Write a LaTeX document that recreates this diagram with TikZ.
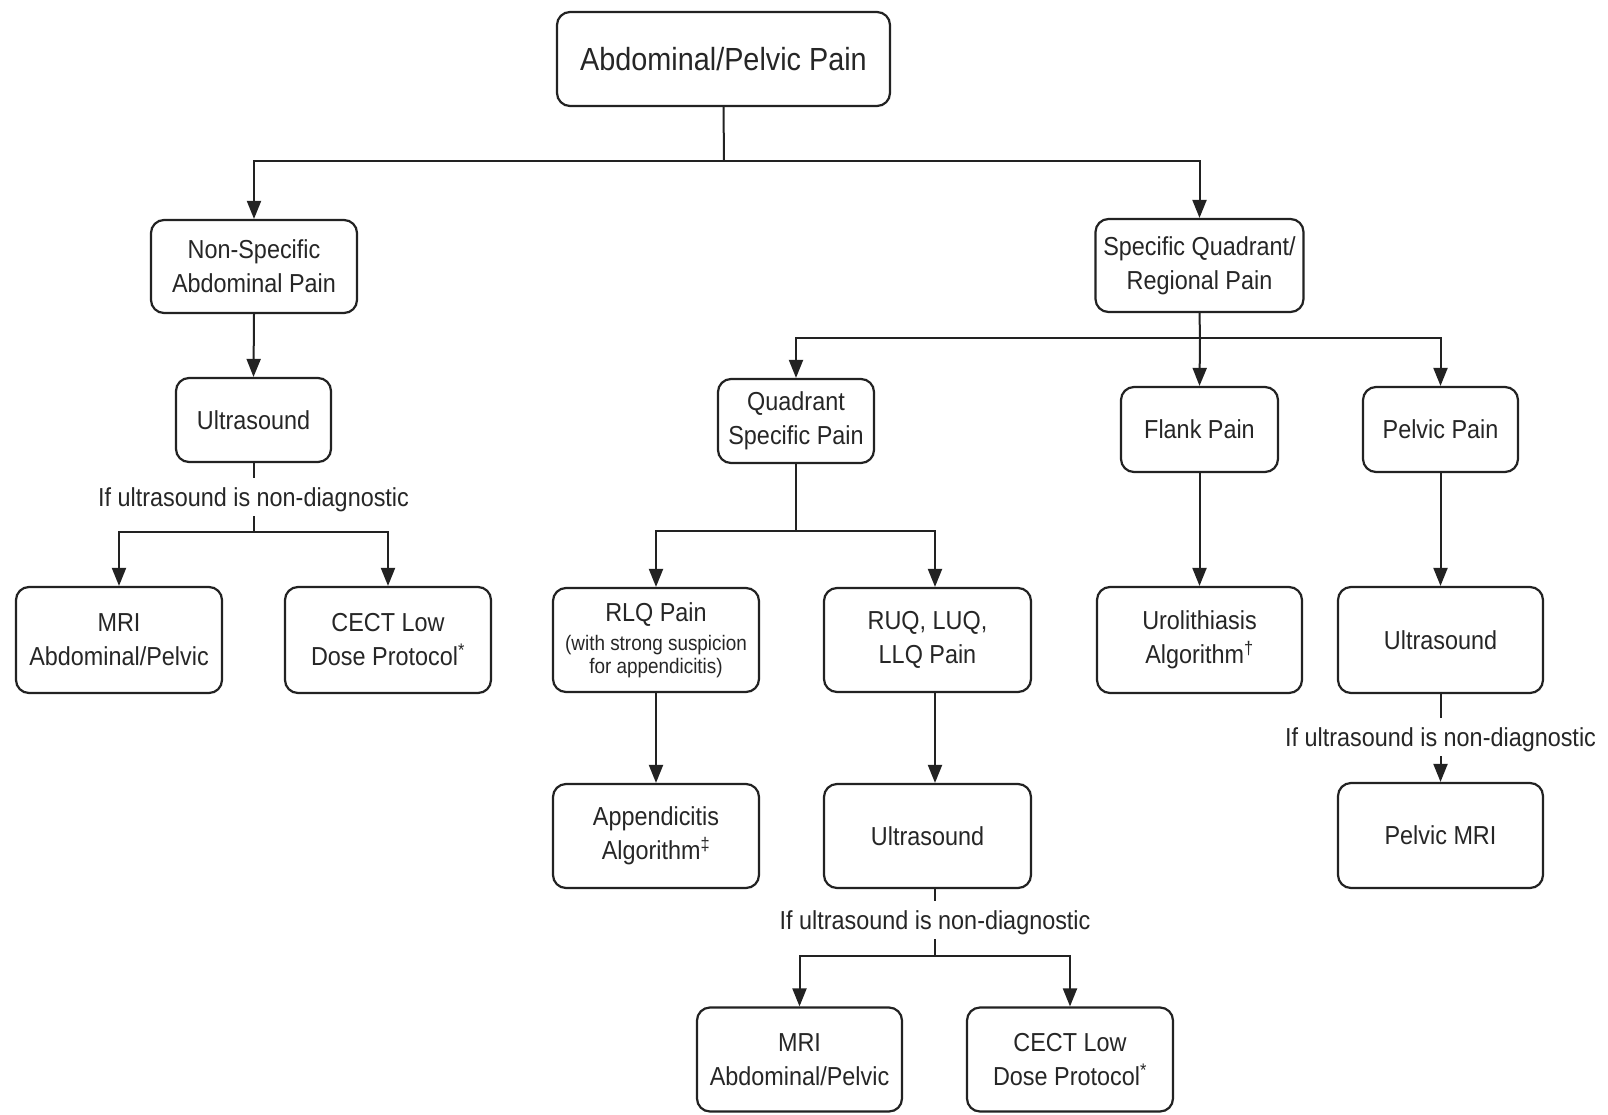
\documentclass[tikz,border=0pt]{standalone}
\usepackage{fontspec}
\setmainfont{Liberation Sans}[FakeStretch=0.9]
\usetikzlibrary{arrows.meta}
\definecolor{ink}{HTML}{222222}
\definecolor{txt}{HTML}{262626}
\begin{document}
\begin{tikzpicture}[x=1pt,y=-1pt,
  box/.style={draw=ink, line width=2.2pt, rounded corners=13pt, align=center,
    inner sep=0pt, text=txt, font=\fontsize{26}{34}\selectfont},
  arr/.style={-{Triangle[width=14pt,length=18pt]}, line width=2pt, draw=ink},
  ln/.style={line width=2pt, draw=ink},
  note/.style={text=txt, font=\fontsize{26}{34}\selectfont, text height=19pt,
    text depth=0pt, inner xsep=0pt, inner ysep=9.5pt}]
\useasboundingbox[fill=white] (0,0) rectangle (1608,1114);

% nodes
\node[box, minimum width=333pt, minimum height=94pt, font=\fontsize{32}{38}\selectfont] (top) at (723.5,59) {Abdominal/Pelvic Pain};
\node[box, minimum width=206pt, minimum height=93pt] (nsa) at (254,266.5) {Non-Specific\\Abdominal Pain};
\node[box, minimum width=208pt, minimum height=93pt] (sq) at (1199.5,265.5) {Specific Quadrant/\\Regional Pain};
\node[box, minimum width=155pt, minimum height=84pt] (us1) at (253.5,420) {Ultrasound};
\node[note] (t1) at (253.5,497) {If ultrasound is non-diagnostic};
\node[box, minimum width=206pt, minimum height=106pt] (mri1) at (119,640) {MRI\\Abdominal/Pelvic};
\node[box, minimum width=206pt, minimum height=106pt] (cect1) at (388,640) {CECT Low\\Dose Protocol\textsuperscript{*}};

\node[box, minimum width=156pt, minimum height=84pt] (qsp) at (796,421) {Quadrant\\Specific Pain};
\node[box, minimum width=157pt, minimum height=85pt] (flank) at (1199.5,429.5) {Flank Pain};
\node[box, minimum width=155pt, minimum height=85pt] (pelvic) at (1440.5,429.5) {Pelvic Pain};

\node[box, minimum width=206pt, minimum height=104pt, font=\fontsize{21}{23}\selectfont] (rlq) at (656,640) {{\fontsize{26}{29}\selectfont RLQ Pain}\\[6pt](with strong suspicion\\for appendicitis)};
\node[box, minimum width=207pt, minimum height=104pt] (ruq) at (927.5,640) {RUQ, LUQ,\\LLQ Pain};
\node[box, minimum width=205pt, minimum height=106pt] (uro) at (1199.5,640) {Urolithiasis\\Algorithm\textsuperscript{†}};
\node[box, minimum width=205pt, minimum height=106pt] (us3) at (1440.5,640) {Ultrasound};
\node[note] (t3) at (1440.5,737) {If ultrasound is non-diagnostic};
\node[box, minimum width=205pt, minimum height=105pt] (pmri) at (1440.5,835.5) {Pelvic MRI};

\node[box, minimum width=206pt, minimum height=104pt] (app) at (656,836) {Appendicitis\\Algorithm\textsuperscript{‡}};
\node[box, minimum width=207pt, minimum height=104pt] (us2) at (927.5,836) {Ultrasound};
\node[note] (t2) at (935,920) {If ultrasound is non-diagnostic};
\node[box, minimum width=205pt, minimum height=104pt] (mri2) at (799.5,1059.5) {MRI\\Abdominal/Pelvic};
\node[box, minimum width=206pt, minimum height=104pt] (cect2) at (1070,1059.5) {CECT Low\\Dose Protocol\textsuperscript{*}};

% junctions
\coordinate (j0) at (724,161);
\coordinate (j1) at (253.5,532);
\coordinate (j2) at (1200,338);
\coordinate (j3) at (796,531);
\coordinate (j4) at (935,956);

% connectors
\draw[ln] (top.south) -- (j0);
\draw[arr] (j0) -| (nsa.north);
\draw[arr] (j0) -| (sq.north);

\draw[arr] (nsa.south) -- (us1.north);
\draw[ln] (us1.south) -- (t1.north);
\draw[ln] (t1.south) -- (j1);
\draw[arr] (j1) -| (mri1.north);
\draw[arr] (j1) -| (cect1.north);

\draw[ln] (sq.south) -- (j2);
\draw[arr] (j2) -| (qsp.north);
\draw[arr] (j2) -- (flank.north);
\draw[arr] (j2) -| (pelvic.north);

\draw[ln] (qsp.south) -- (j3);
\draw[arr] (j3) -| (rlq.north);
\draw[arr] (j3) -| ([xshift=7.5pt]ruq.north);

\draw[arr] (flank.south) -- (uro.north);
\draw[arr] (pelvic.south) -- (us3.north);
\draw[ln] (us3.south) -- (t3.north);
\draw[arr] (t3.south) -- (pmri.north);

\draw[arr] (rlq.south) -- (app.north);
\draw[arr] ([xshift=7.5pt]ruq.south) -- ([xshift=7.5pt]us2.north);
\draw[ln] ([xshift=7.5pt]us2.south) -- (t2.north);
\draw[ln] (t2.south) -- (j4);
\draw[arr] (j4) -| (mri2.north);
\draw[arr] (j4) -| (cect2.north);
\end{tikzpicture}
\end{document}
